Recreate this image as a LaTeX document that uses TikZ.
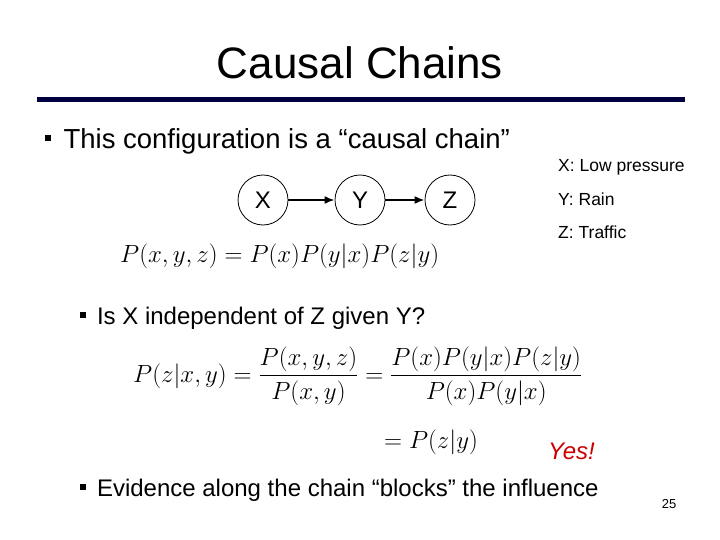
\documentclass[tikz,border=0pt]{standalone}
\usepackage{amsmath}
\usepackage{fontspec}
\setmainfont{Liberation Sans}
\usetikzlibrary{arrows.meta}
\definecolor{navy}{RGB}{0,0,64}
\tikzset{
  var/.style = {circle, draw, thick, minimum size=50pt, inner sep=0pt, font=\fontsize{24}{24}\selectfont},
  link/.style = {-{Latex[length=10pt,width=8pt]}, line width=2.6pt},
  txt/.style = {anchor=west, inner sep=0pt, font=\fontsize{27.5}{28}\selectfont},
  sub/.style = {anchor=west, inner sep=0pt, font=\fontsize{24}{24}\selectfont},
  small/.style = {anchor=west, inner sep=0pt, font=\fontsize{17.5}{18}\selectfont},
  eq/.style = {anchor=west, inner sep=0pt, font=\fontsize{28.5}{29}\selectfont}
}
\newcommand{\bul}{\raisebox{0.25em}{\tikz\fill (0,0) rectangle (6pt,6pt);}\hspace{0.45em}}
\begin{document}
\begin{tikzpicture}[x=1pt, y=-1pt]
\useasboundingbox (0,0) rectangle (720,540);
\node (title) at (360,63) [font=\fontsize{44}{44}\selectfont] {Causal Chains};
\fill[navy] (37,97) rectangle (685,102);
% first bullet
\node (b1) at (45,141) [txt] {\bul This configuration is a “causal chain”};
\node (x) at (263,200) [var] {X};
\node (y) at (360,200) [var] {Y};
\node (z) at (450,200) [var] {Z};
\draw[link] (x) -- (y);
\draw[link] (y) -- (z);
\node (lx) at (558,167) [small] {X: Low pressure};
\node (ly) at (558,199) [small] {Y: Rain};
\node (lz) at (558,232) [small] {Z: Traffic};
\node (joint) at (120,256) [eq] {$P(x,y,z) = P(x)P(y|x)P(z|y)$};
% second bullet
\node (b2) at (80,318) [sub] {\bul Is X independent of Z given Y?};
\node (cond) at (133,376) [eq] {$P(z|x,y) = \dfrac{P(x,y,z)}{P(x,y)} = \dfrac{P(x)P(y|x)P(z|y)}{P(x)P(y|x)}$};
\node (res) at (384,442) [eq] {$= P(z|y)$};
\node (yes) at (548,451) [sub, font=\fontsize{24}{24}\selectfont\itshape, text=red!80!black] {Yes!};
% third bullet
\node (b3) at (80,490) [sub] {\bul Evidence along the chain “blocks” the influence};
\node (page) at (669,504) [font=\fontsize{13}{13}\selectfont] {25};
\end{tikzpicture}
\end{document}
